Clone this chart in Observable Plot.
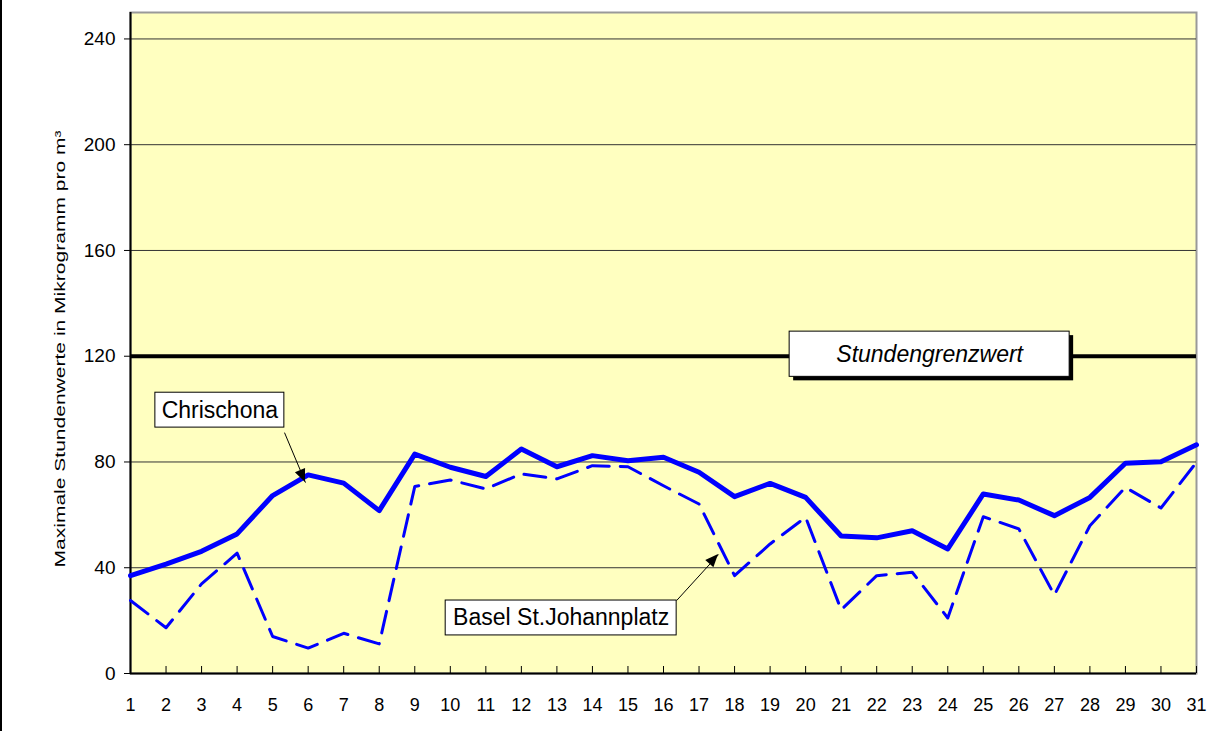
<!DOCTYPE html>
<html><head><meta charset="utf-8">
<script src="https://cdn.jsdelivr.net/npm/d3@7"></script>
<script src="https://cdn.jsdelivr.net/npm/@observablehq/plot@0.6"></script>
<style>
body{margin:0;background:#fff;overflow:hidden}
#chart svg{display:block;border-left:2px solid #000}
</style>
</head><body><div id="chart"></div><script>
const days = [1,2,3,4,5,6,7,8,9,10,11,12,13,14,15,16,17,18,19,20,21,22,23,24,25,26,27,28,29,30,31];
const chrischona = [37.0,41.4,46.2,52.8,67.3,75.1,72.0,61.6,83.0,78.0,74.5,84.9,78.2,82.4,80.5,81.8,76.1,66.9,71.9,66.6,52.0,51.3,54.0,47.1,67.9,65.6,59.7,66.6,79.5,80.1,86.5];
const basel = [27.6,17.3,33.9,45.5,14.0,9.6,15.2,11.2,70.7,73.2,69.8,75.5,73.6,78.6,78.2,71.0,64.1,37.0,49.0,59.1,24.1,37.0,38.3,21.0,59.3,54.7,29.7,55.9,70.4,62.6,79.9];
const limitValue = 120;
const yTicks = [0,40,80,120,160,200,240];
const gridValues = [40,80,160,200,240];
const yTitle = "Maximale Stundenwerte in Mikrogramm pro m³";

// annotation boxes (data coordinates)
const seriesLabels = [
  {text:"Chrischona", x1:1.70, x2:5.33, y1:93.0, y2:106.2, cx:3.515, cy:99.6},
  {text:"Basel St.Johannplatz", x1:9.87, x2:16.37, y1:14.4, y2:27.6, cx:13.12, cy:21.0}
];
const limitLabel = [{text:"Stundengrenzwert", x1:19.55, x2:27.43, y1:112.2, y2:129.3, cx:23.49, cy:120.75}];
const arrows = [
  {x1:5.334, y1:91.1, x2:5.925, y2:72.2},
  {x1:16.37, y1:27.6, x2:17.55, y2:45.0}
];

const rowsC = days.map((d,i)=>({day:d, v:chrischona[i]}));
const rowsB = days.map((d,i)=>({day:d, v:basel[i]}));

const font = "'Liberation Sans', Arial, sans-serif";
const plot = Plot.plot({
  width: 1225, height: 731,
  marginLeft: 128, marginRight: 31, marginTop: 12, marginBottom: 58,
  style: {fontFamily: font, background: "#fff", color: "#000"},
  x: {domain: [1,31]},
  y: {domain: [0,250]},
  marks: [
    Plot.frame({fill:"#FFFFC0", stroke:"#999", strokeWidth:2}),
    Plot.ruleY(gridValues, {stroke:"#333", strokeWidth:1}),
    Plot.ruleX(days, {x: d=>d, insetTop: 654, stroke:"#000", strokeWidth:1}),
    Plot.ruleY([limitValue], {stroke:"#000", strokeWidth:4}),
    Plot.ruleY([0], {stroke:"#000", strokeWidth:2}),
    Plot.ruleX([1], {stroke:"#000", strokeWidth:2}),
    Plot.axisY({ticks: yTicks, tickSize: 6, tickPadding: 9, fontSize: 19, label: null}),
    Plot.axisX({ticks: days, tickSize: 0, tickPadding: 25, fontSize: 18, label: null, tickFormat: d=>String(d)}),
    Plot.text([yTitle], {frameAnchor:"left", rotate:-90, dx:-70, dy:6, fontSize:15, lineAnchor:"middle", textAnchor:"middle", fill:"#000"}),
    Plot.line(rowsB, {x:"day", y:"v", stroke:"#0000FF", strokeWidth:3, strokeDasharray:"22,11"}),
    Plot.line(rowsC, {x:"day", y:"v", stroke:"#0000FF", strokeWidth:5, strokeLinejoin:"round"}),
    Plot.rect(limitLabel, {x1:"x1", x2:"x2", y1:"y1", y2:"y2", fill:"#000", dx:4, dy:4}),
    Plot.rect(limitLabel, {x1:"x1", x2:"x2", y1:"y1", y2:"y2", fill:"#fff", stroke:"#000", strokeWidth:1}),
    Plot.text(limitLabel, {x:"cx", y:"cy", text:"text", fontSize:23, fontStyle:"italic", fill:"#000"}),
    Plot.rect(seriesLabels, {x1:"x1", x2:"x2", y1:"y1", y2:"y2", fill:"#fff", stroke:"#000", strokeWidth:1}),
    Plot.text(seriesLabels, {x:"cx", y:"cy", text:"text", fontSize:23, fill:"#000"}),
    Plot.link(arrows, {x1:"x1", y1:"y1", x2:"x2", y2:"y2", stroke:"#000", strokeWidth:1}),
  ]
});
document.getElementById("chart").appendChild(plot);

// tick label sizes (inline style wins over any stylesheet)
const yTickStr = new Set(yTicks.map(String)), dayStr = new Set(days.map(String));
plot.querySelectorAll("text").forEach(t => {
  const s = t.textContent.trim();
  if (yTickStr.has(s)) t.style.fontSize = "19px";
  else if (dayStr.has(s)) t.style.fontSize = "18px";
  if (s === yTitle) { t.setAttribute("textLength", "437"); t.setAttribute("lengthAdjust", "spacingAndGlyphs"); }
});

// filled arrowheads at the link ends, rotated along the link direction
const svg = d3.select(plot);
const xs = plot.scale("x"), ys = plot.scale("y");
arrows.forEach(a => {
  const X1 = xs.apply(a.x1), Y1 = ys.apply(a.y1), X2 = xs.apply(a.x2), Y2 = ys.apply(a.y2);
  const angle = Math.atan2(Y2 - Y1, X2 - X1) * 180 / Math.PI;
  svg.append("path")
    .attr("d", "M0,0L-13,-5.5L-13,5.5Z")
    .attr("fill", "#000")
    .attr("transform", `translate(${X2},${Y2}) rotate(${angle})`);
});
</script></body></html>
